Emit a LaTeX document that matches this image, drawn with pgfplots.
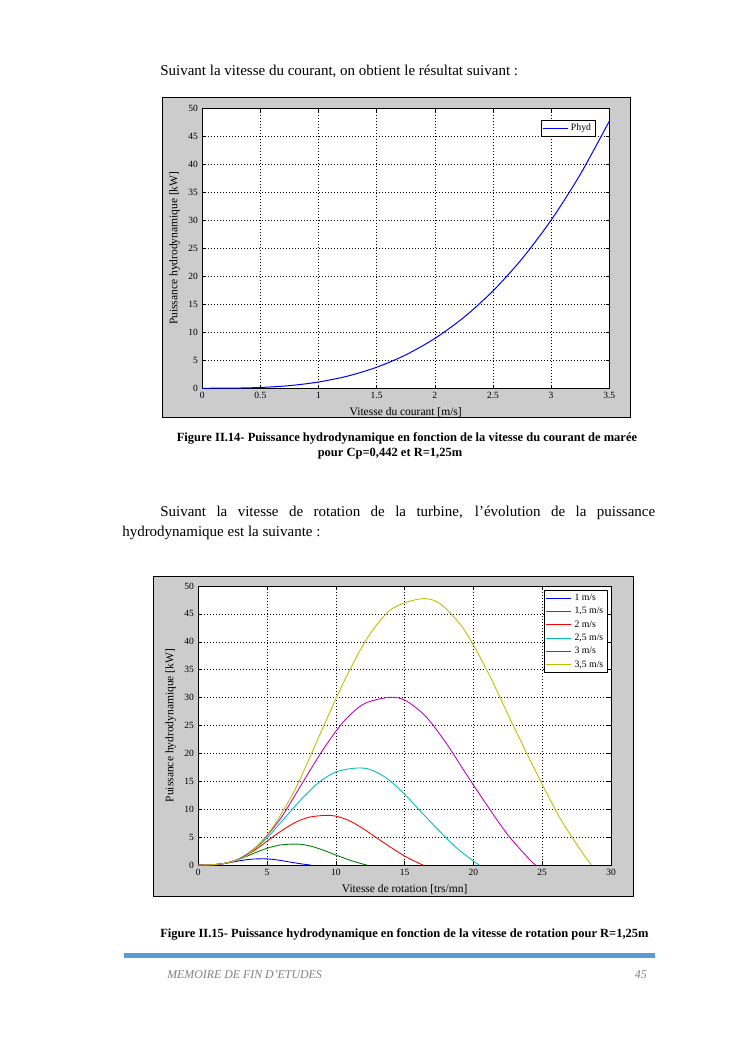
\documentclass[border=0pt]{standalone}
\usepackage{pgfplots}
\pgfplotsset{compat=1.18}
\usepackage{fontspec}
\setmainfont{Liberation Serif}

\definecolor{figgray}{RGB}{204,204,204}
\definecolor{barblue}{RGB}{91,155,213}
\definecolor{mgreen}{rgb}{0,0.5,0}
\definecolor{mcyan}{rgb}{0,0.75,0.75}
\definecolor{mmag}{rgb}{0.75,0,0.75}
\definecolor{myel}{rgb}{0.75,0.75,0}

\pgfplotsset{
  matfig/.style={
    scale only axis,
    axis background/.style={fill=white},
    grid=major,
    major grid style={black, dotted, line width=0.4pt},
    tick align=inside,
    major tick length=3pt,
    axis line style={black, line width=0.5pt},
    tick style={black, line width=0.4pt},
    ticklabel style={font=\fontsize{7.6}{8}\selectfont},
    label style={font=\fontsize{9.2}{10}\selectfont},
    /pgf/number format/assume math mode=true,
    legend style={font=\fontsize{7.8}{8.5}\selectfont, draw=black, inner sep=1pt,
      row sep=0pt, cells={anchor=west}},
    legend image code/.code={\draw[##1, line width=1pt] (0pt,0pt) -- (20pt,0pt);},
  }
}

\begin{document}
\begin{tikzpicture}
\fill[white] (0,0) rectangle (596pt,-842.4pt);

% texte de la page
\node[anchor=base west, inner sep=0, font=\fontsize{12}{14}\selectfont]
  at (128pt,-60.6pt) {Suivant la vitesse du courant, on obtient le résultat suivant :};

% cadre gris de la figure II.14
\fill[figgray] (130.2pt,-78.2pt) rectangle (504pt,-334.2pt);
\draw[black, line width=0.7pt] (130.2pt,-78.2pt) rectangle (504pt,-334.2pt);

\begin{axis}[matfig,
  at={(161.8pt,-310.6pt)}, anchor=south west,
  width=325.6pt, height=224pt,
  xmin=0, xmax=3.5, ymin=0, ymax=50,
  xtick={0,0.5,...,3.5}, ytick={0,5,...,50},
  xlabel={Vitesse du courant [m/s]},
  ylabel={Puissance hydrodynamique [kW]},
  legend style={at={(1,1)}, anchor=north east, xshift=-11.4pt, yshift=-9.4pt},
]
\addplot[blue, line width=0.8pt, smooth] table {
V P
0 0
0.25 0.0174
0.5 0.139
0.75 0.469
1 1.112
1.25 2.172
1.5 3.753
1.75 5.960
2 8.896
2.25 12.67
2.5 17.38
2.75 23.13
3 30.02
3.25 38.17
3.5 47.68
};
\addlegendentry{Phyd}
\end{axis}

\node[anchor=base, inner sep=0, font=\bfseries\fontsize{10}{12}\selectfont]
  at (325.6pt,-352.8pt) {Figure II.14- Puissance hydrodynamique en fonction de la vitesse du courant de marée};
\node[anchor=base, inner sep=0, font=\bfseries\fontsize{10}{12}\selectfont]
  at (312pt,-364.8pt) {pour Cp=0,442 et R=1,25m};

\node[anchor=base west, inner sep=0] at (97.6pt,-412.8pt) {%
  \begin{minipage}[t]{426.4pt}\fontsize{12}{16}\selectfont
  \noindent\hspace*{30.4pt}Suivant la vitesse de rotation de la turbine, l’évolution de la puissance\linebreak
  hydrodynamique est la suivante :
  \end{minipage}};

% cadre gris de la figure II.15
\fill[figgray] (122.6pt,-461.4pt) rectangle (506.4pt,-717.4pt);
\draw[black, line width=0.7pt] (122.6pt,-461.4pt) rectangle (506.4pt,-717.4pt);

\begin{axis}[matfig,
  at={(158.6pt,-692pt)}, anchor=south west,
  width=330.2pt, height=223.2pt,
  xmin=0, xmax=30, ymin=0, ymax=50,
  xtick={0,5,...,30}, ytick={0,5,...,50},
  xlabel={Vitesse de rotation [trs/mn]},
  ylabel={Puissance hydrodynamique [kW]},
  legend style={at={(1,1)}, anchor=north east, xshift=-3pt, yshift=-3.2pt},
]
\addplot[blue, line width=0.7pt, smooth] table {
N P
0 0
0.5 0.0056
1 0.039
1.5 0.145
2 0.311
2.5 0.534
3 0.756
3.5 0.945
4 1.068
4.6 1.112
5 1.095
5.5 0.990
6 0.812
6.5 0.600
7 0.395
7.5 0.200
8 0.044
8.17 0
};
\addlegendentry{1 m/s}
\addplot[mgreen, line width=0.7pt, smooth] table {
N P
0 0
0.75 0.019
1.5 0.131
2.25 0.488
3 1.051
3.75 1.801
4.5 2.552
5.25 3.190
6 3.603
6.9 3.753
7.5 3.697
8.25 3.340
9 2.740
9.75 2.027
10.5 1.332
11.25 0.676
12 0.150
12.26 0
};
\addlegendentry{1,5 m/s}
\addplot[red, line width=0.7pt, smooth] table {
N P
0 0
1 0.044
2 0.311
3 1.156
4 2.491
5 4.270
6 6.049
7 7.562
8 8.540
9.2 8.896
10 8.763
11 7.917
12 6.494
13 4.804
14 3.158
15 1.601
16 0.356
16.34 0
};
\addlegendentry{2 m/s}
\addplot[mcyan, line width=0.7pt, smooth] table {
N P
0 0
1.25 0.087
2.5 0.608
3.75 2.259
5 4.865
6.25 8.340
7.5 11.815
8.75 14.769
10 16.680
11.5 17.375
12.5 17.114
13.75 15.464
15 12.684
16.25 9.383
17.5 6.168
18.75 3.128
20 0.695
20.43 0
};
\addlegendentry{2,5 m/s}
\addplot[mmag, line width=0.7pt, smooth] table {
N P
0 0
1.5 0.150
3 1.051
4.5 3.903
6 8.406
7.5 14.410
9 20.414
10.5 25.517
12 28.819
13.8 30.02
15 29.570
16.5 26.718
18 21.915
19.5 16.211
21 10.657
22.5 5.404
24 1.201
24.51 0
};
\addlegendentry{3 m/s}
\addplot[myel, line width=0.7pt, smooth] table {
N P
0 0
1.75 0.238
3.5 1.669
5.25 6.198
7 13.350
8.75 22.886
10.5 32.422
12.25 40.528
14 45.773
16.1 47.68
17.5 46.965
19.25 42.435
21 34.806
22.75 25.747
24.5 16.926
26.25 8.582
28 1.907
28.6 0
};
\addlegendentry{3,5 m/s}
\end{axis}

\node[anchor=base west, inner sep=0, font=\bfseries\fontsize{10}{12}\selectfont]
  at (128pt,-749.6pt) {Figure II.15- Puissance hydrodynamique en fonction de la vitesse de rotation pour R=1,25m};

% pied de page
\fill[barblue] (99.2pt,-762.4pt) rectangle (524pt,-766.4pt);
\node[anchor=base west, inner sep=0, text=gray, font=\itshape\fontsize{9.5}{11}\selectfont]
  at (133.6pt,-783pt) {MEMOIRE DE FIN D’ETUDES};
\node[anchor=base east, inner sep=0, text=gray, font=\itshape\fontsize{9.5}{11}\selectfont]
  at (517.6pt,-783pt) {45};
\end{tikzpicture}
\end{document}
